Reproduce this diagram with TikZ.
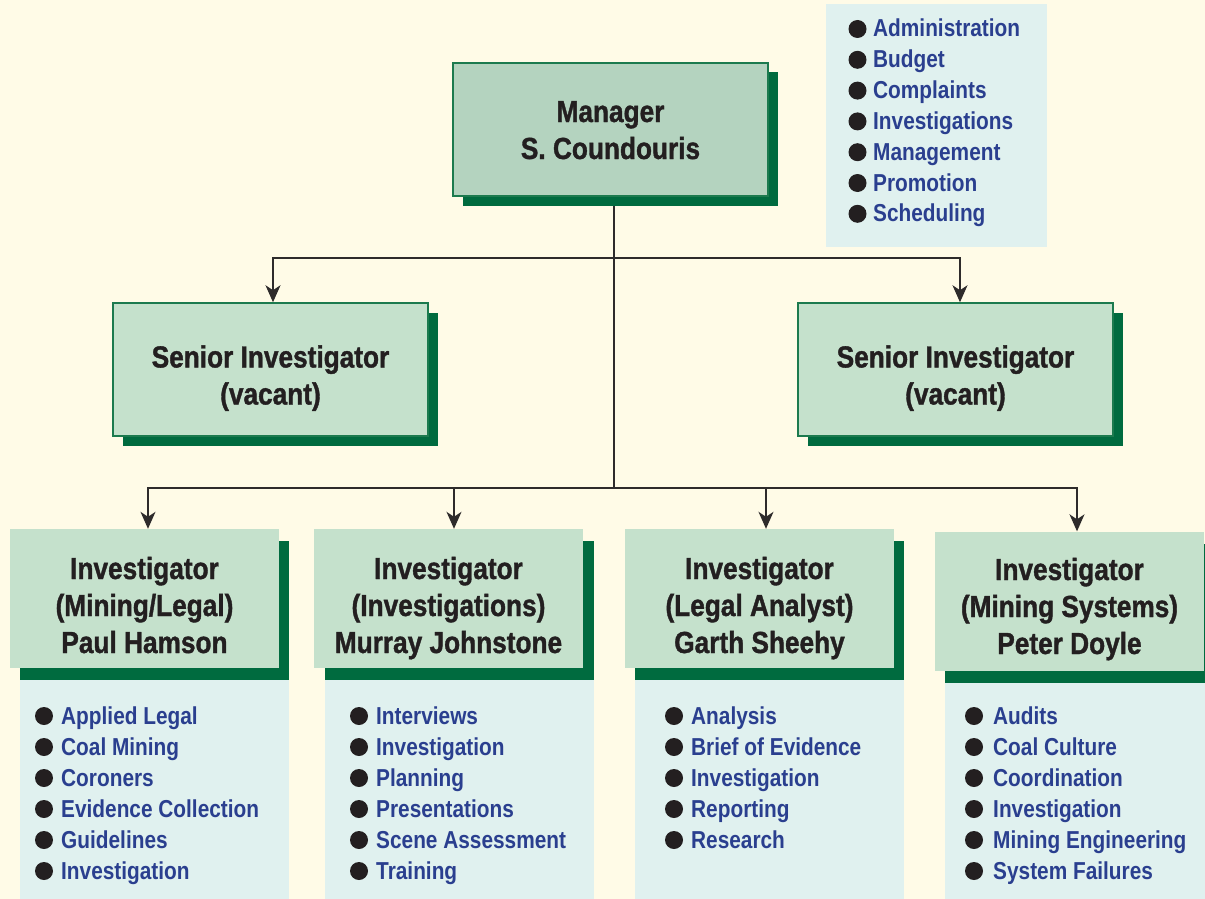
\documentclass[tikz,border=0pt]{standalone}
\usepackage{fontspec}
\setmainfont{Liberation Sans}[FakeStretch=0.85]
\newfontfamily\tfont{Liberation Sans}[FakeStretch=0.86, BoldFeatures={FakeBold=1.2}]
\usetikzlibrary{arrows.meta,shadows}
\definecolor{bgc}{HTML}{FFFBE7}
\definecolor{mgrfill}{HTML}{B4D3BF}
\definecolor{boxfill}{HTML}{C5E1CC}
\definecolor{dkg}{HTML}{006B3F}
\definecolor{bord}{HTML}{1C7A4E}
\definecolor{panel}{HTML}{E0F1EF}
\definecolor{blu}{HTML}{2A3F8F}
\definecolor{txt}{HTML}{231F20}
\definecolor{linec}{HTML}{2E2B2B}
\pgfdeclarelayer{bg}
\pgfdeclarelayer{lines}
\pgfsetlayers{bg,lines,main}
\newcommand\mklist[6]{%
  \foreach \t [count=\i from 0] in {#6} {
    \fill[bul] (#2,{#4+#5*\i-8}) circle[radius=9pt];
    \node[item] (#1-\i) at (#3,{#4+#5*\i}) {\t};
  }}
\tikzset{
  ttl/.style={font=\tfont\bfseries\fontsize{30.5}{37}\selectfont, text=txt, align=center, inner sep=0pt},
  mgrbox/.style={ttl, fill=mgrfill, draw=bord, line width=1.5pt, minimum width=315pt, minimum height=133pt,
     text height=69pt, text depth=10pt,
     drop shadow={shadow xshift=10pt, shadow yshift=-9.5pt, fill=dkg, opacity=1}},
  senbox/.style={mgrbox, fill=boxfill, text height=80pt, text depth=10pt},
  invbox/.style={ttl, fill=boxfill, minimum width=269pt, minimum height=139pt, text height=119pt, text depth=10pt},
  item/.style={font=\bfseries\fontsize{24.5}{30}\selectfont, text=blu, anchor=base west, inner sep=0pt},
  bul/.style={fill=txt},
  conn/.style={draw=linec, line width=1.6pt},
  arr/.style={conn, -{Stealth[length=17pt,width=15pt,inset=5pt]}},
}
\begin{document}
\begin{tikzpicture}[x=1pt,y=-1pt]
\begin{pgfonlayer}{bg}
\fill[bgc] (0,0) rectangle (1205,899);
\end{pgfonlayer}
\useasboundingbox (0,0) rectangle (1205,899);

% top-right panel
\fill[panel] (826,4) rectangle (1047,247);
\mklist{tp}{857.5}{873}{37}{30.8}{Administration,Budget,Complaints,Investigations,Management,Promotion,Scheduling}

% manager and seniors
\node[mgrbox] (mgr) at (610.5,129.5) {Manager\\S. Coundouris};
\node[senbox] (sen1) at (270.5,369.5) {Senior Investigator\\(vacant)};
\node[senbox] (sen2) at (955.5,369.5) {Senior Investigator\\(vacant)};

% investigator bands and panels
\fill[dkg] (20,541) rectangle (289,680);
\fill[panel] (20,680) rectangle (289,899);
\fill[dkg] (325,541) rectangle (594,680);
\fill[panel] (325,680) rectangle (594,899);
\fill[dkg] (635,541) rectangle (904,680);
\fill[panel] (635,680) rectangle (904,899);
\fill[dkg] (945,544) rectangle (1205,683);
\fill[panel] (945,683) rectangle (1205,899);

\node[invbox] (inv1) at (144.5,598.5) {Investigator\\(Mining/Legal)\\Paul Hamson};
\node[invbox] (inv2) at (448.5,598.5) {Investigator\\(Investigations)\\Murray Johnstone};
\node[invbox] (inv3) at (759.5,598.5) {Investigator\\(Legal Analyst)\\Garth Sheehy};
\node[invbox, text height=116pt] (inv4) at (1069.5,601) {Investigator\\(Mining Systems)\\Peter Doyle};

\mklist{la}{44}{61}{724}{31}{Applied Legal,Coal Mining,Coroners,Evidence Collection,Guidelines,Investigation}
\mklist{lb}{359}{376}{724}{31}{Interviews,Investigation,Planning,Presentations,Scene Assessment,Training}
\mklist{lc}{674}{691}{724}{31}{Analysis,Brief of Evidence,Investigation,Reporting,Research}
\mklist{ld}{974}{993}{724}{31}{Audits,Coal Culture,Coordination,Investigation,Mining Engineering,System Failures}

% connectors
\coordinate (j1) at (614,258);
\coordinate (j2) at (614,488);
\begin{pgfonlayer}{lines}
\draw[conn] ([xshift=3.5pt]mgr.south) -- (j2);
\draw[arr] (j1) -| ([xshift=2.5pt]sen1.north);
\draw[arr] (j1) -| ([xshift=4.5pt]sen2.north);
\draw[arr] (j2) -| ([xshift=3.5pt]inv1.north);
\draw[arr] (j2) -| ([xshift=5.5pt]inv2.north);
\draw[arr] (j2) -| ([xshift=6.5pt]inv3.north);
\draw[arr] (j2) -| ([xshift=7.5pt]inv4.north);
\end{pgfonlayer}
\end{tikzpicture}
\end{document}
